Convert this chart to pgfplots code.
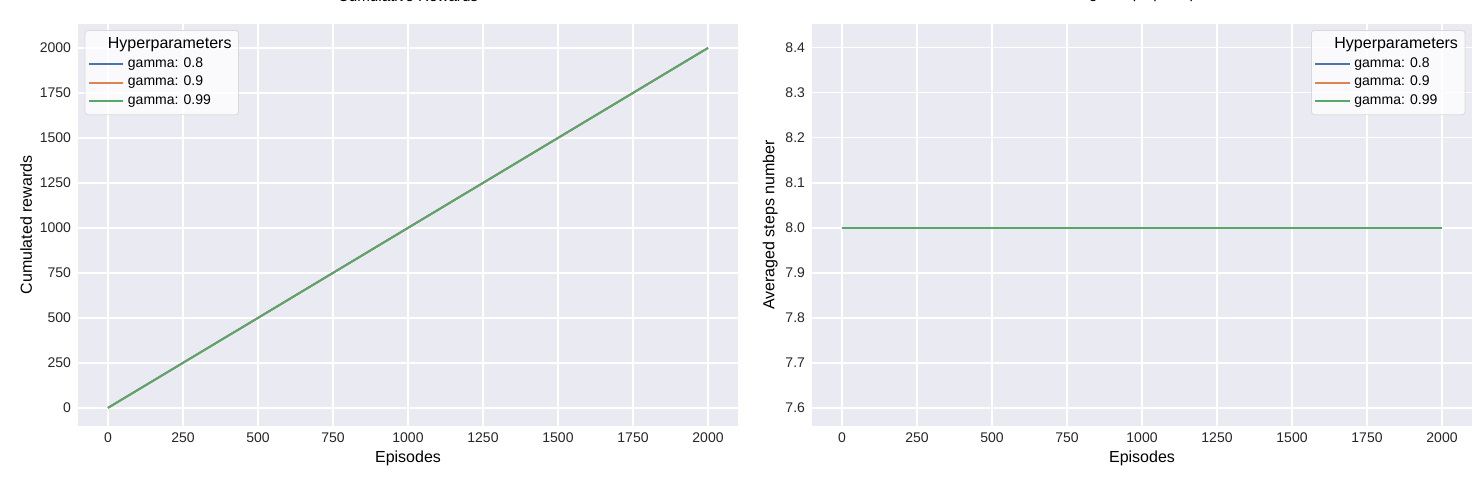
\documentclass[border=0pt]{standalone}
\usepackage{pgfplots}
\pgfplotsset{compat=1.18}
\usepackage{fontspec}
\setmainfont{Liberation Sans}
\definecolor{bg}{HTML}{EAEAF2}
\definecolor{sb}{HTML}{4C72B0}
\definecolor{so}{HTML}{DD8452}
\definecolor{sg}{HTML}{55A868}
\pgfplotsset{
 sbstyle/.style={
  scale only axis, width=330pt, height=201pt,
  axis background/.style={fill=bg},
  grid=major, grid style={white, line width=0.6pt},
  axis line style={draw=none}, major tick length=0pt,
  tick label style={font=\fontsize{7}{8}\selectfont, text=black!85},
  label style={font=\fontsize{8}{9}\selectfont},
  title style={font=\fontsize{7.6}{9}\selectfont, at={(0.5,1)}, anchor=south, yshift=1.5pt},
  /pgf/number format/assume math mode=true,
  /pgf/number format/1000 sep={},
  xmin=-100, xmax=2100, xtick={0,250,...,2000},
  xlabel={Episodes}, xlabel style={yshift=3pt},
  legend cell align=left,
  legend style={font=\fontsize{7}{8}\selectfont, fill=white, fill opacity=0.8, text opacity=1, draw=black!15, rounded corners=1.5pt, row sep=-1pt, inner sep=1.5pt},
  every axis plot/.append style={line width=0.9pt},
 }
}
\begin{document}
\begin{tikzpicture}
\useasboundingbox (0,0) rectangle (742pt,242pt);
\begin{axis}[sbstyle, at={(39pt,29pt)}, anchor=south west,
  title={Cumulative Rewards}, ylabel={Cumulated rewards}, ylabel style={yshift=-3pt},
  ymin=-100, ymax=2133, ytick={0,250,...,2000},
  legend style={at={(0.01,0.985)}, anchor=north west}]
\addlegendimage{empty legend}
\addlegendentry{\hspace{-10pt}\fontsize{8}{9}\selectfont Hyperparameters}
\addplot[sb] coordinates {(0,1) (2000,2000)}; \addlegendentry{gamma: 0.8}
\addplot[so] coordinates {(0,1) (2000,2000)}; \addlegendentry{gamma: 0.9}
\addplot[sg] coordinates {(0,1) (2000,2000)}; \addlegendentry{gamma: 0.99}
\end{axis}
\begin{axis}[sbstyle, at={(406pt,29pt)}, anchor=south west,
  title={Average Steps per Episode}, ylabel={Averaged steps number}, ylabel style={yshift=-3pt},
  ymin=7.56, ymax=8.453, ytick={7.6,7.7,...,8.41},
  yticklabel style={/pgf/number format/.cd, fixed, fixed zerofill, precision=1},
  legend style={at={(0.99,0.985)}, anchor=north east}]
\addlegendimage{empty legend}
\addlegendentry{\hspace{-10pt}\fontsize{8}{9}\selectfont Hyperparameters}
\addplot[sb] coordinates {(0,8) (2000,8)}; \addlegendentry{gamma: 0.8}
\addplot[so] coordinates {(0,8) (2000,8)}; \addlegendentry{gamma: 0.9}
\addplot[sg] coordinates {(0,8) (2000,8)}; \addlegendentry{gamma: 0.99}
\end{axis}
\end{tikzpicture}
\end{document}
